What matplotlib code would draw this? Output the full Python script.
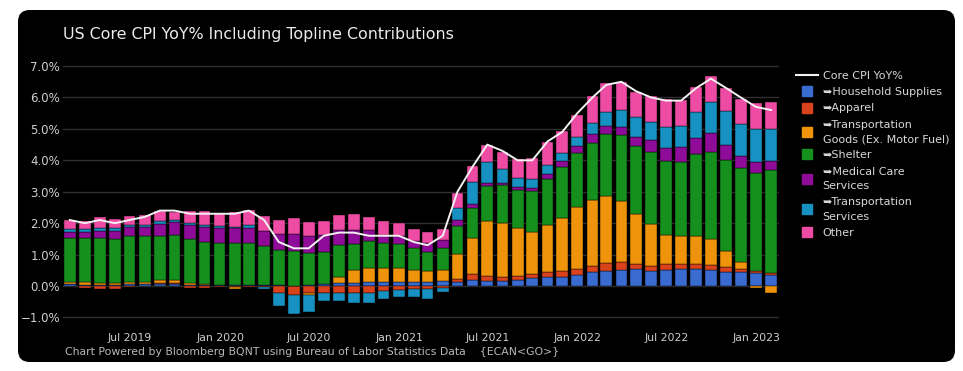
import numpy as np
import pandas as pd
import matplotlib
matplotlib.use('Agg')
import matplotlib.pyplot as plt
import matplotlib.dates as mdates
from matplotlib.lines import Line2D
from matplotlib.patches import FancyBboxPatch
from matplotlib.ticker import StrMethodFormatter

# monthly data, Feb 2019 .. Jan 2023 (contributions in pct points)
dates = pd.date_range('2019-02-28', periods=48, freq='ME')

core_cpi = [2.1, 2.0, 2.1, 2.0, 2.1, 2.2, 2.4, 2.4, 2.3, 2.3, 2.3,
            2.3, 2.4, 2.1, 1.4, 1.2, 1.2, 1.6, 1.7, 1.7, 1.6, 1.6, 1.6,
            1.4, 1.3, 1.6, 3.0, 3.8, 4.5, 4.3, 4.0, 4.0, 4.6, 4.9, 5.5,
            6.0, 6.4, 6.5, 6.2, 6.0, 5.9, 5.9, 6.3, 6.6, 6.3, 6.0, 5.7,
            5.6]

household = [0.05, 0.04, 0.03, 0.03, 0.06, 0.06, 0.07, 0.07, 0.03, 0.03, 0.02,
             0.02, 0.02, 0.03, 0.03, 0.00, 0.03, 0.08, 0.10, 0.11, 0.12, 0.14, 0.13,
             0.12, 0.12, 0.15, 0.14, 0.19, 0.17, 0.17, 0.19, 0.27, 0.30, 0.30, 0.35,
             0.46, 0.49, 0.51, 0.53, 0.49, 0.51, 0.53, 0.53, 0.51, 0.46, 0.44, 0.40,
             0.35]

apparel = [0.02, -0.07, -0.10, -0.10, -0.04, 0.02, 0.04, 0.04, -0.07, -0.05, -0.03,
           -0.02, -0.03, -0.03, -0.23, -0.29, -0.23, -0.23, -0.22, -0.23, -0.21, -0.15, -0.12,
           -0.10, -0.10, -0.07, 0.07, 0.18, 0.16, 0.13, 0.13, 0.11, 0.16, 0.18, 0.19,
           0.18, 0.23, 0.24, 0.17, 0.15, 0.18, 0.16, 0.16, 0.16, 0.13, 0.11, 0.07,
           0.07]

trans_goods = [0.06, 0.08, 0.07, 0.07, 0.08, 0.06, 0.08, 0.08, 0.07, 0.02, 0.01,
               -0.06, 0.01, 0.00, 0.00, 0.00, -0.07, 0.00, 0.20, 0.39, 0.45, 0.43, 0.43,
               0.39, 0.36, 0.35, 0.81, 1.15, 1.74, 1.72, 1.52, 1.33, 1.47, 1.68, 1.96,
               2.09, 2.13, 1.94, 1.59, 1.34, 0.94, 0.90, 0.91, 0.82, 0.54, 0.21, -0.07,
               -0.21]

shelter = [1.39, 1.40, 1.44, 1.40, 1.46, 1.46, 1.41, 1.44, 1.40, 1.36, 1.35,
           1.36, 1.35, 1.23, 1.12, 1.12, 1.01, 0.99, 0.99, 0.85, 0.85, 0.81, 0.78,
           0.69, 0.60, 0.71, 0.89, 0.96, 1.10, 1.20, 1.20, 1.31, 1.46, 1.63, 1.73,
           1.83, 2.00, 2.10, 2.16, 2.29, 2.34, 2.37, 2.60, 2.77, 2.89, 3.00, 3.12,
           3.28]

medical = [0.21, 0.21, 0.21, 0.25, 0.29, 0.29, 0.38, 0.40, 0.43, 0.46, 0.46,
           0.46, 0.46, 0.49, 0.51, 0.53, 0.55, 0.55, 0.49, 0.43, 0.35, 0.25, 0.24,
           0.24, 0.29, 0.25, 0.19, 0.14, 0.11, 0.07, 0.10, 0.11, 0.16, 0.20, 0.24,
           0.27, 0.23, 0.28, 0.30, 0.37, 0.43, 0.46, 0.51, 0.60, 0.46, 0.37, 0.35,
           0.27]

trans_serv = [0.09, 0.07, 0.09, 0.09, 0.06, 0.06, 0.08, 0.07, 0.09, 0.08, 0.06,
              0.05, 0.09, -0.08, -0.41, -0.61, -0.53, -0.25, -0.25, -0.32, -0.34, -0.25, -0.23,
              -0.24, -0.30, -0.12, 0.37, 0.69, 0.67, 0.43, 0.30, 0.27, 0.29, 0.24, 0.27,
              0.35, 0.45, 0.53, 0.63, 0.59, 0.67, 0.68, 0.82, 1.01, 1.09, 1.01, 1.05,
              1.04]

other = [0.28, 0.28, 0.36, 0.28, 0.27, 0.31, 0.34, 0.27, 0.38, 0.45, 0.42,
         0.47, 0.49, 0.48, 0.43, 0.51, 0.44, 0.45, 0.48, 0.51, 0.42, 0.45, 0.43,
         0.38, 0.35, 0.37, 0.50, 0.52, 0.53, 0.56, 0.59, 0.66, 0.74, 0.71, 0.71,
         0.87, 0.94, 0.90, 0.81, 0.82, 0.89, 0.83, 0.81, 0.80, 0.74, 0.82, 0.83,
         0.85]

series = [
    ('\u27a5Household Supplies', household, '#3a6bd0'),
    ('\u27a5Apparel', apparel, '#d8431c'),
    ('\u27a5Transportation\nGoods (Ex. Motor Fuel)', trans_goods, '#ee930a'),
    ('\u27a5Shelter', shelter, '#15901c'),
    ('\u27a5Medical Care\nServices', medical, '#8e0c98'),
    ('\u27a5Transportation\nServices', trans_serv, '#1791c2'),
    ('Other', other, '#ee4ca4'),
]

fig = plt.figure(figsize=(9.63, 3.71), dpi=100, facecolor='white')

# black rounded panel behind everything
panel = FancyBboxPatch((18/963, 9/371), 937/963, 352/371,
                       boxstyle='round,pad=0,rounding_size=0.012',
                       mutation_aspect=963/371,
                       transform=fig.transFigure, facecolor='black',
                       edgecolor='none', zorder=-10)
fig.patches.append(panel)

ax = fig.add_axes([0.0654, 0.124, 0.7435, 0.72])
ax.set_facecolor('none')

pos_bottom = np.zeros(len(dates))
neg_bottom = np.zeros(len(dates))
for label, vals, col in series:
    vals = np.array(vals)
    bottom = np.where(vals >= 0, pos_bottom, neg_bottom)
    ax.bar(dates, vals, width=24, bottom=bottom, color=col,
           edgecolor='black', linewidth=0.3, zorder=2)
    pos_bottom += np.where(vals >= 0, vals, 0)
    neg_bottom += np.where(vals < 0, vals, 0)

ax.plot(dates, core_cpi, color='#f2f2f2', lw=1.4, zorder=5)

ax.set_xlim(dates[0] - pd.Timedelta(days=14), dates[-1] + pd.Timedelta(days=16))
ax.set_ylim(-1.24, 7.26)
ax.set_yticks(np.arange(-1, 8))
ax.yaxis.set_major_formatter(StrMethodFormatter('{x:.1f}%'))
ax.xaxis.set_major_locator(mdates.MonthLocator(bymonth=[1, 7]))
ax.xaxis.set_major_formatter(mdates.DateFormatter('%b %Y'))

ax.yaxis.grid(True, color='#303030', lw=1.0)
ax.set_axisbelow(True)
for s in ax.spines.values():
    s.set_visible(False)
ax.tick_params(axis='both', length=0)
ax.tick_params(axis='y', labelsize=8.5, labelcolor='#cfcfcf', pad=2)
ax.tick_params(axis='x', labelsize=7.8, labelcolor='#cfcfcf', pad=6)

fig.text(63/963, 1 - 35/371, 'US Core CPI YoY% Including Topline Contributions',
         color='#ececec', fontsize=11.4, va='center', ha='left')
fig.text(65/963, 1 - 352/371,
         'Chart Powered by Bloomberg BQNT using Bureau of Labor Statistics Data    {ECAN<GO>}',
         color='#b8b8b8', fontsize=7.8, va='center', ha='left')

handles = [Line2D([], [], color='#f2f2f2', lw=1.5)]
labels = ['Core CPI YoY%']
for label, vals, col in series:
    handles.append(Line2D([], [], marker='s', linestyle='none', markersize=7, color=col))
    labels.append(label)
leg = fig.legend(handles, labels, loc='upper left', bbox_to_anchor=(796/963, 1 - 71/371),
                 frameon=False, fontsize=8, labelcolor='#d8d8d8', handlelength=2.0,
                 handletextpad=0.4, labelspacing=0.56, borderaxespad=0, borderpad=0)
for t in leg.get_texts():
    t.set_linespacing(1.55)

fig.savefig('out.png', dpi=100, facecolor='white')
